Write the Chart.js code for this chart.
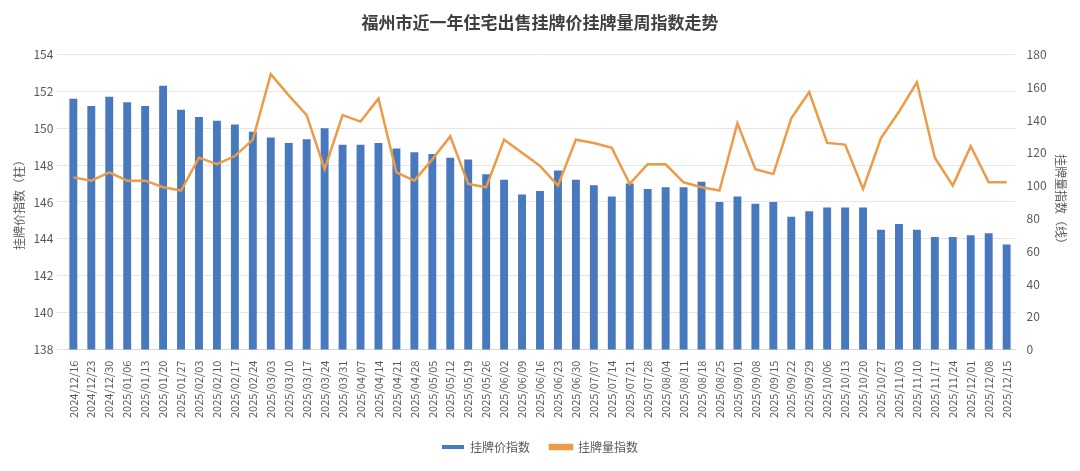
<!DOCTYPE html>
<html>
<head>
<meta charset="utf-8">
<script src="https://cdn.jsdelivr.net/npm/chart.js@4"></script>
<style>
  body { margin: 0; background: #fff; }
  #wrap { width: 1080px; height: 471px; position: relative; }
</style>
</head>
<body>
<div id="wrap"><canvas id="chart"></canvas></div>
<script>
const weeks = ["2024/12/16","2024/12/23","2024/12/30","2025/01/06","2025/01/13","2025/01/20","2025/01/27","2025/02/03","2025/02/10","2025/02/17","2025/02/24","2025/03/03","2025/03/10","2025/03/17","2025/03/24","2025/03/31","2025/04/07","2025/04/14","2025/04/21","2025/04/28","2025/05/05","2025/05/12","2025/05/19","2025/05/26","2025/06/02","2025/06/09","2025/06/16","2025/06/23","2025/06/30","2025/07/07","2025/07/14","2025/07/21","2025/07/28","2025/08/04","2025/08/11","2025/08/18","2025/08/25","2025/09/01","2025/09/08","2025/09/15","2025/09/22","2025/09/29","2025/10/06","2025/10/13","2025/10/20","2025/10/27","2025/11/03","2025/11/10","2025/11/17","2025/11/24","2025/12/01","2025/12/08","2025/12/15"]

// 挂牌价指数 (left axis)
const priceIndex = [151.6,151.2,151.7,151.4,151.2,152.3,151.0,150.6,150.4,150.2,149.8,149.5,149.2,149.4,150.0,149.1,149.1,149.2,148.9,148.7,148.6,148.4,148.3,147.5,147.2,146.4,146.6,147.7,147.2,146.9,146.3,147.0,146.7,146.8,146.8,147.1,146.0,146.3,145.9,146.0,145.2,145.5,145.7,145.7,145.7,144.5,144.8,144.5,144.1,144.1,144.2,144.3,143.7]

// 挂牌量指数 (right axis)
const volumeIndex = [105,103,108,103,103,99,97,117,113,118,128,168,155,143,110,143,139,153,108,103,116,130,101,99,128,120,112,100,128,126,123,101,113,113,102,99,97,138,110,107,141,157,126,125,98,129,145,163,117,100,124,102,102]

const font = "'Noto Sans CJK SC', 'Noto Sans', sans-serif"
Chart.defaults.font.family = font
Chart.defaults.color = "#595959"

new Chart(document.getElementById("chart"), {
  data: {
    labels: weeks,
    datasets: [
      {
        type: "bar",
        label: "挂牌价指数",
        data: priceIndex,
        yAxisID: "y",
        backgroundColor: "#4878BE",
        categoryPercentage: 0.8,
        barPercentage: 0.55,
        order: 1,
      },
      {
        type: "line",
        label: "挂牌量指数",
        data: volumeIndex,
        yAxisID: "y2",
        borderColor: "#ED9B46",
        backgroundColor: "#ED9B46",
        borderWidth: 2.5,
        pointRadius: 0,
        tension: 0,
        order: 0,
      },
    ],
  },
  options: {
    responsive: true,
    maintainAspectRatio: false,
    animation: false,
    layout: { padding: { left: 8, right: 8, top: 10, bottom: 8 } },
    plugins: {
      title: {
        display: true,
        text: "福州市近一年住宅出售挂牌价挂牌量周指数走势",
        font: { size: 17, weight: "bold" },
        color: "#404040",
        padding: { top: 2, bottom: 22 },
      },
      legend: {
        position: "bottom",
        labels: {
          boxWidth: 22, boxHeight: 4, font: { size: 12 }, padding: 20,
          sort: (a, b) => a.datasetIndex - b.datasetIndex,
        },
      },
      tooltip: { enabled: false },
    },
    scales: {
      x: {
        grid: { display: false },
        border: { color: "#d9d9d9" },
        ticks: { maxRotation: 90, minRotation: 90, autoSkip: false, font: { size: 11 } },
      },
      y: {
        position: "left",
        min: 138,
        max: 154,
        ticks: { stepSize: 2, font: { size: 12 } },
        grid: { color: "#e6e6e6" },
        border: { display: false },
        title: { display: true, text: "挂牌价指数（柱）", font: { size: 12 } },
      },
      y2: {
        position: "right",
        min: 0,
        max: 180,
        ticks: { stepSize: 20, font: { size: 12 } },
        grid: { display: false },
        border: { display: false },
        title: { display: true, text: "挂牌量指数（线）", font: { size: 12 } },
      },
    },
  },
})
</script>
</body>
</html>
